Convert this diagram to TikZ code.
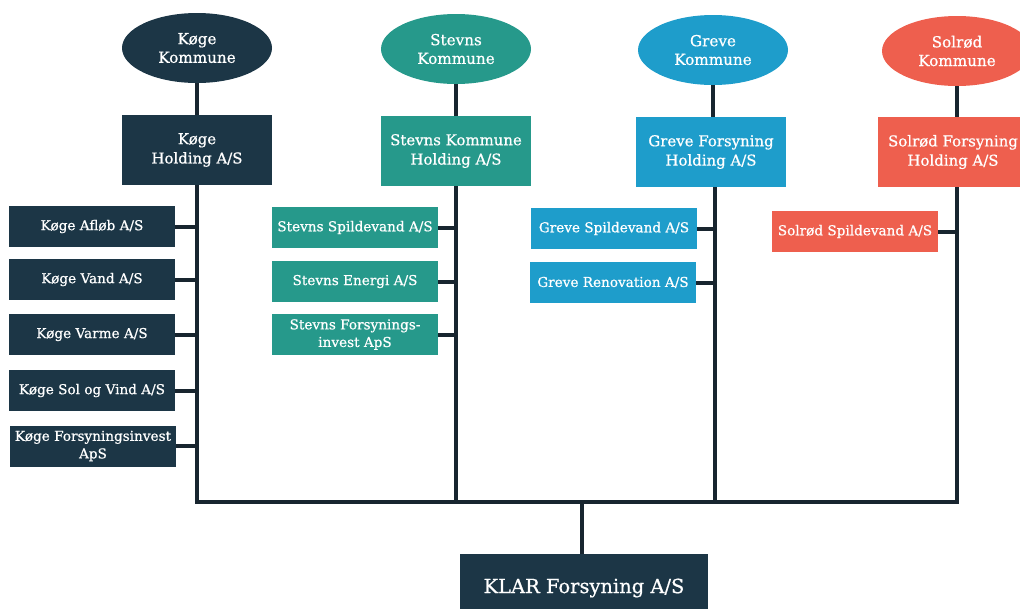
\documentclass[tikz,border=0pt]{standalone}
\usepackage{fontspec}
\setmainfont{DejaVu Serif}[FakeBold=0.7]
\usetikzlibrary{shapes.geometric}
\definecolor{koge}{HTML}{1C3646}
\definecolor{stevns}{HTML}{26998B}
\definecolor{greve}{HTML}{1E9DCB}
\definecolor{solrod}{HTML}{EE5F4E}
\definecolor{linec}{HTML}{18252F}
\tikzset{
  ell/.style={ellipse, inner sep=0pt, minimum width=112.5pt, minimum height=52.5pt, text=white, align=center, font=\fontsize{11.4}{14}\selectfont},
  hold/.style={rectangle, inner sep=0pt, minimum width=112.5pt, minimum height=52.5pt, text=white, align=center, font=\fontsize{11.2}{14.5}\selectfont},
  sub/.style={rectangle, inner sep=0pt, minimum width=124.5pt, minimum height=30.75pt, text=white, align=center, font=\fontsize{10.2}{13.2}\selectfont},
  conn/.style={draw=linec, line width=3pt},
}
\begin{document}
\begin{tikzpicture}[x=0.75pt,y=-0.75pt]
\useasboundingbox (0,0) rectangle (1020,608);
\clip (0,0) rectangle (1020,608);
% top ellipses
\node[ell, fill=koge] (ek) at (197,48) {Køge\\Kommune};
\node[ell, fill=stevns] (es) at (456,49) {Stevns\\Kommune};
\node[ell, fill=greve] (eg) at (713,50) {Greve\\Kommune};
\node[ell, fill=solrod] (eo) at (957,51) {Solrød\\Kommune};
% holdings
\node[hold, fill=koge] (hk) at (197,150) {Køge\\Holding A/S};
\node[hold, fill=stevns] (hs) at (456,151) {Stevns Kommune\\Holding A/S};
\node[hold, fill=greve] (hg) at (711,152) {Greve Forsyning\\Holding A/S};
\node[hold, fill=solrod] (ho) at (953,152) {Solrød Forsyning\\Holding A/S};
% bottom bus coordinates
\coordinate (bk) at (197,502);
\coordinate (bs) at (456,502);
\coordinate (bg) at (715,502);
\coordinate (bo) at (957,502);
\coordinate (bm) at (582,502);
% KLAR
\node[rectangle, inner sep=0pt, minimum width=186pt, minimum height=51pt, fill=koge, text=white, font=\fontsize{14.6}{17}\selectfont] (klar) at (584,588) {KLAR Forsyning A/S};
% Køge subs
\node[sub, fill=koge] (k1) at (92,226.5) {Køge Afløb A/S};
\node[sub, fill=koge] (k2) at (92,279.5) {Køge Vand A/S};
\node[sub, fill=koge] (k3) at (92,334.5) {Køge Varme A/S};
\node[sub, fill=koge] (k4) at (92,390.5) {Køge Sol og Vind A/S};
\node[sub, fill=koge] (k5) at (93,446) {Køge Forsyningsinvest\\ApS};
% Stevns subs
\node[sub, fill=stevns] (s1) at (355,227.5) {Stevns Spildevand A/S};
\node[sub, fill=stevns] (s2) at (355,281.5) {Stevns Energi A/S};
\node[sub, fill=stevns] (s3) at (355,334.5) {Stevns Forsynings-\\invest ApS};
% Greve subs
\node[sub, fill=greve] (g1) at (614,228.5) {Greve Spildevand A/S};
\node[sub, fill=greve] (g2) at (613,282.5) {Greve Renovation A/S};
% Solrød sub
\node[sub, fill=solrod] (o1) at (855,231.5) {Solrød Spildevand A/S};
% vertical lines
\draw[conn] (ek.south) -- (hk.north);
\draw[conn] (es.south) -- (hs.north);
\draw[conn] (eg.south) -- (eg.south |- hg.north);
\draw[conn] (eo.south) -- (eo.south |- ho.north);
\draw[conn] (hk.south) -- (bk);
\draw[conn] (hs.south) -- (bs);
\draw[conn] (bg |- hg.south) -- (bg);
\draw[conn] (bo |- ho.south) -- (bo);
% bus
\draw[conn] ([xshift=-1.5pt]bk) -- ([xshift=1.5pt]bo);
\draw[conn] (bm) -- (bm |- klar.north);
% sub connectors
\foreach \n in {k1,k2,k3,k4,k5} \draw[conn] (\n.east) -- (\n.east -| bk);
\foreach \n in {s1,s2,s3} \draw[conn] (\n.east) -- (\n.east -| bs);
\foreach \n in {g1,g2} \draw[conn] (\n.east) -- (\n.east -| bg);
\draw[conn] (o1.east) -- (o1.east -| bo);
\end{tikzpicture}
\end{document}
